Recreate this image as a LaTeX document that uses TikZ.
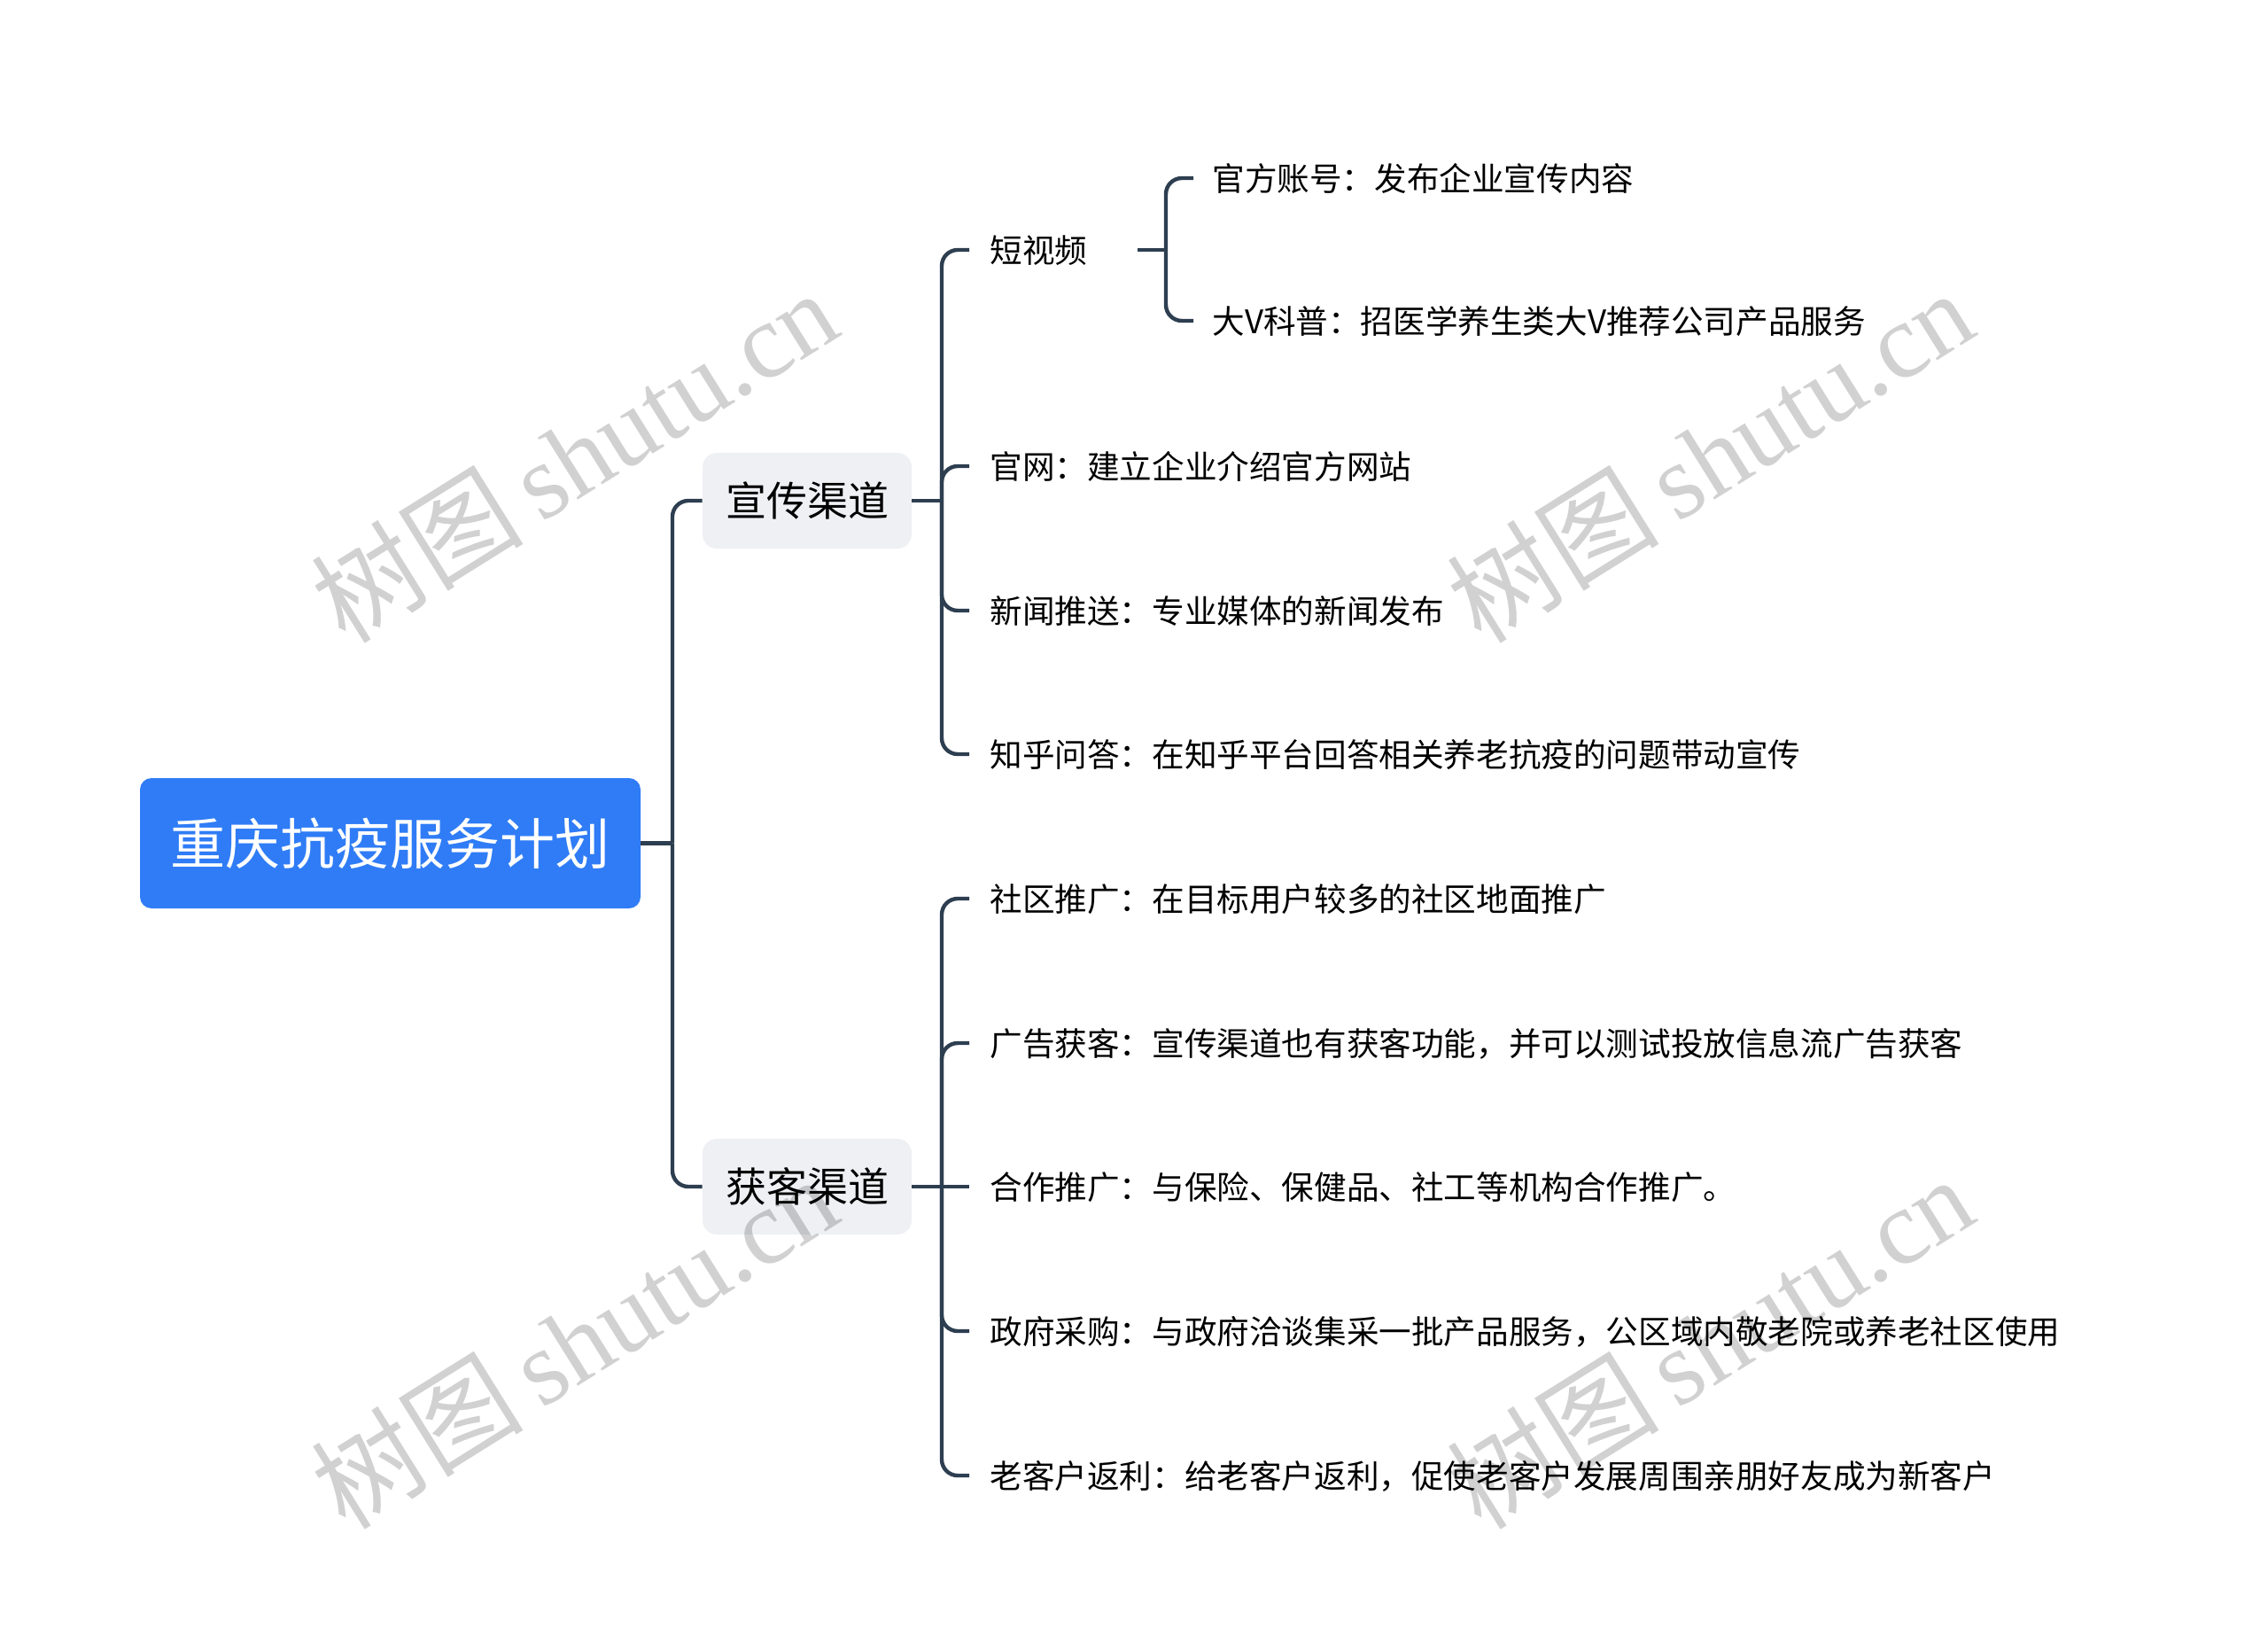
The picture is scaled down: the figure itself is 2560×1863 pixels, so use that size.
\documentclass[tikz,border=0pt]{standalone}
\usepackage{fontspec}
\setmainfont{Noto Sans CJK SC}
\newfontfamily\wmserif{Liberation Serif}
\newfontfamily\wmcjk{Noto Sans CJK SC}
\definecolor{linec}{HTML}{2D3E50}
\definecolor{rootc}{HTML}{2F7CF6}
\definecolor{boxc}{HTML}{EEF0F3}
\begin{document}
\begin{tikzpicture}[x=0.5pt,y=-0.5pt,
  conn/.style={draw=linec, line width=2.2pt, rounded corners=9pt},
  rootbox/.style={fill=rootc, rounded corners=6.5pt, text=white, minimum width=282.5pt, minimum height=73.5pt, inner sep=0pt, font=\fontsize{31pt}{31pt}\selectfont, text height=27.3pt, text depth=3.7pt},
  branchbox/.style={fill=boxc, rounded corners=8pt, text=black, minimum width=118pt, minimum height=54pt, inner sep=0pt, font=\fontsize{23pt}{23pt}\selectfont, text height=20.2pt, text depth=2.8pt},
  leaf/.style={anchor=west, inner xsep=11.5pt, inner ysep=0pt, text=black, font=\fontsize{18.3pt}{18.3pt}\selectfont, text height=16.4pt, text depth=1.8pt},
  wm/.style={text=black, text opacity=0.18, rotate=32, inner sep=0pt, font=\fontsize{60pt}{60pt}\selectfont}]
\useasboundingbox (0,0) rectangle (2560,1863);

% nodes
\node[rootbox] (root) at (440.5,951.5) {重庆抗疫服务计划};
\node[branchbox] (xc) at (911,565) {宣传渠道};
\node[branchbox] (hk) at (911,1339) {获客渠道};

\node[leaf, text width=71.5pt, align=left] (dsp) at (1094,282) {短视频};
\node[leaf] (gw) at (1094,526) {官网：建立企业介绍官方网站};
\node[leaf] (xw) at (1094,689) {新闻推送：专业媒体的新闻发布};
\node[leaf] (zh) at (1094,851) {知乎问答：在知乎平台回答相关养老抗疫的问题带动宣传};

\node[leaf, inner xsep=10.5pt] (gf) at (1347,201) {官方账号：发布企业宣传内容};
\node[leaf, inner xsep=10.5pt] (dv) at (1347,362) {大V科普：招医学养生类大V推荐公司产品服务};

\node[leaf] (sq) at (1094,1014) {社区推广：在目标用户较多的社区地面推广};
\node[leaf] (gg) at (1094,1177) {广告获客：宣传渠道也有获客功能，并可以测试投放信息流广告获客};
\node[leaf] (hz) at (1094,1339) {合作推广：与保险、保健品、社工等机构合作推广。};
\node[leaf] (zf) at (1094,1502) {政府采购：与政府洽谈集采一批产品服务，公区域内敬老院或养老社区使用};
\node[leaf] (lk) at (1094,1665) {老客户返利：给老客户返利，促使老客户发展周围亲朋好友成为新客户};

% junctions
\coordinate (j0) at (759,951.5);
\coordinate (j1) at (1063,565);
\coordinate (j2) at (1063,1339);
\coordinate (j3) at (1316,282);

% connectors
\draw[conn] (root.east) -- (j0);
\draw[conn] (j0) |- (xc.west);
\draw[conn] (j0) |- (hk.west);

\draw[conn] (xc.east) -- (j1);
\draw[conn] (j1) |- (dsp.west);
\draw[conn] (j1) |- (gw.west);
\draw[conn] (j1) |- (xw.west);
\draw[conn] (j1) |- (zh.west);

\draw[conn] (dsp.east) -- (j3);
\draw[conn] (j3) |- (gf.west);
\draw[conn] (j3) |- (dv.west);

\draw[conn] (hk.east) -- (j2);
\draw[conn] (j2) |- (sq.west);
\draw[conn] (j2) |- (gg.west);
\draw[conn] (j2) -- (hz.west);
\draw[conn] (j2) |- (zf.west);
\draw[conn] (j2) |- (lk.west);

% watermarks
\node[wm] (wm1) at (648,514) {\wmcjk 树图\,\wmserif shutu.cn};
\node[wm] (wm2) at (1930,514) {\wmcjk 树图\,\wmserif shutu.cn};
\node[wm] (wm3) at (648,1514) {\wmcjk 树图\,\wmserif shutu.cn};
\node[wm] (wm4) at (1930,1514) {\wmcjk 树图\,\wmserif shutu.cn};
\end{tikzpicture}
\end{document}
